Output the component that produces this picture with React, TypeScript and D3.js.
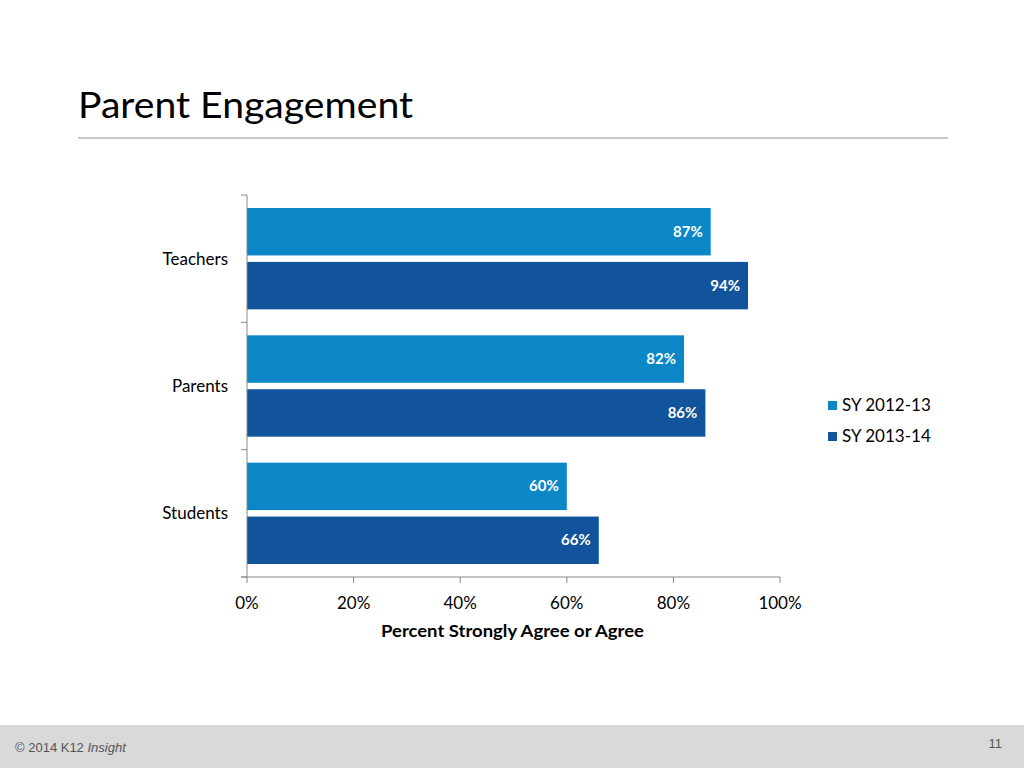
import React from "react";
import * as d3 from "d3";

const categories = ["Teachers", "Parents", "Students"];
const seriesNames = ["SY 2012-13", "SY 2013-14"];
const sy1213 = [87, 82, 60];
const sy1314 = [94, 86, 66];
const xTicks = [0, 20, 40, 60, 80, 100];
const colors = ["#0b87c8", "#12549b"];

export default function App() {
  const x = d3.scaleLinear().domain([0, 100]).range([247, 780]);
  const y = d3.scaleBand().domain(categories).range([195, 577]);
  const inner = d3.scaleBand().domain(["0", "1"]).range([13, y.bandwidth() - 13]).paddingInner(0.12);
  const series = [sy1213, sy1314];
  const font = "Lato, 'Open Sans', sans-serif";
  return (
    <svg width={1024} height={768} style={{ position: "absolute", left: 0, top: 0, background: "#fff" }}>
      <text x={78} y={118} fontFamily={font} fontSize={37} textLength={335} lengthAdjust="spacingAndGlyphs" fill="#000">Parent Engagement</text>
      <line x1={78} x2={948} y1={138} y2={138} stroke="#c8c8c8" strokeWidth={2} />
      {categories.map((c, i) => (
        <g key={c}>
          {series.map((s, j) => {
            const yy = y(c)! + inner(String(j))!;
            return (
              <g key={j}>
                <rect x={x(0)} y={yy} width={x(s[i]) - x(0)} height={inner.bandwidth()} fill={colors[j]} />
                <text x={x(s[i]) - 8} y={yy + inner.bandwidth() / 2 + 5} textAnchor="end" fill="#fff"
                  fontFamily={font} fontWeight="bold" fontSize={15}>{s[i]}%</text>
              </g>
            );
          })}
          <text x={228} y={y(c)! + y.bandwidth() / 2 + 6} textAnchor="end" fontFamily={font} fontSize={17}>{c}</text>
        </g>
      ))}
      <line x1={247} x2={247} y1={195} y2={577} stroke="#888" />
      {[...categories.map((c) => y(c)!), 577].map((v, i) => (
        <line key={i} x1={241} x2={247} y1={v} y2={v} stroke="#888" />
      ))}
      <line x1={241} x2={780} y1={577} y2={577} stroke="#888" />
      {xTicks.map((t) => (
        <g key={t}>
          <line x1={x(t)} x2={x(t)} y1={577} y2={583} stroke="#888" />
          <text x={x(t)} y={609} textAnchor="middle" fontFamily={font} fontSize={17}>{t}%</text>
        </g>
      ))}
      <text x={x(50) - 1} y={637} textAnchor="middle" fontFamily={font} fontWeight="bold" fontSize={17} textLength={263} lengthAdjust="spacingAndGlyphs">Percent Strongly Agree or Agree</text>
      {seriesNames.map((n, j) => (
        <g key={n}>
          <rect x={828} y={401 + j * 31} width={9} height={9} fill={colors[j]} />
          <text x={842} y={411 + j * 31} fontFamily={font} fontSize={17}>{n}</text>
        </g>
      ))}
      <rect x={0} y={725} width={1024} height={43} fill="#d9d9d9" />
      <text x={15} y={752} fontFamily="'Liberation Sans', Arial, sans-serif" fontSize={13} fill="#555">
        © 2014 K12 <tspan fontStyle="italic">Insight</tspan>
      </text>
      <text x={1002} y={748} textAnchor="end" fontFamily="'Liberation Sans', Arial, sans-serif" fontSize={13} fill="#555">11</text>
    </svg>
  );
}
